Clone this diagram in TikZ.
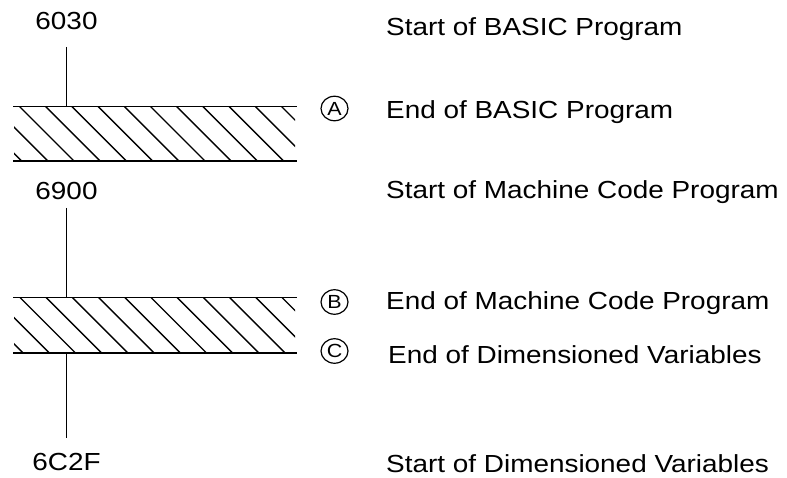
\documentclass[tikz,border=0pt]{standalone}
\usepackage{graphicx}
\usepackage{fontspec}
\setmainfont{Liberation Sans}
\usetikzlibrary{shapes.geometric}
\newcommand{\wtext}[1]{\scalebox{1.13}[1]{#1}}
\begin{document}
\begin{tikzpicture}[x=1pt,y=-1pt,
  lbl/.style={font=\fontsize{24.7}{30}\selectfont, inner sep=0pt, anchor=base west},
  addr/.style={font=\fontsize{24.7}{30}\selectfont, inner sep=0pt, anchor=base},
  circ/.style={draw, ellipse, line width=1.2pt, minimum width=27pt, minimum height=24.5pt, inner sep=0pt, font=\fontsize{19}{20}\selectfont},
  bandline/.style={line width=1.8pt},
  hatch/.style={line width=1.4pt},
  vline/.style={line width=1.3pt}]
\useasboundingbox (0,0) rectangle (787,478);
\fill[white] (0,0) rectangle (787,478);

% address labels
\node[addr] (a6030) at (66.5,30) {\wtext{6030}};
\node[addr] (a6900) at (66.5,200) {\wtext{6900}};
\node[addr] (a6C2F) at (66.5,470) {\wtext{6C2F}};

% band 1
\coordinate (b1tl) at (13,106.5);
\coordinate (b1tr) at (297,106.5);
\coordinate (b1bl) at (13,161);
\coordinate (b1br) at (297,161);
\begin{scope}
  \clip (14,106.5) rectangle (295,161);
  \foreach \k in {-3,...,11}
    \draw[hatch] ({19.5+26.2*\k},106.5) -- ++(54.5,54.5);
\end{scope}
\draw[bandline] (b1tl) -- (b1tr);
\draw[bandline] (b1bl) -- (b1br);

% band 2
\coordinate (b2tl) at (13,297.5);
\coordinate (b2tr) at (297,297.5);
\coordinate (b2bl) at (13,353);
\coordinate (b2br) at (297,353);
\begin{scope}
  \clip (14,297.5) rectangle (295,353);
  \foreach \k in {-3,...,11}
    \draw[hatch] ({20+26.2*\k},297.5) -- ++(55.5,55.5);
\end{scope}
\draw[bandline] (b2tl) -- (b2tr);
\draw[bandline] (b2bl) -- (b2br);

% vertical lines
\coordinate (v1a) at (66.5,47);
\coordinate (v1b) at (66.5,106.5);
\coordinate (v2a) at (66.5,208);
\coordinate (v2b) at (66.5,297.5);
\coordinate (v3a) at (66.5,353);
\coordinate (v3b) at (66.5,438);
\draw[vline] (v1a) -- (v1b);
\draw[vline] (v2a) -- (v2b);
\draw[vline] (v3a) -- (v3b);

% circled markers
\node[circ] (cA) at (334.5,108.5) {\wtext{A}};
\node[circ] (cB) at (334.5,302) {\wtext{B}};
\node[circ] (cC) at (334.5,351) {\wtext{C}};

% descriptions
\node[lbl] (t1) at (386,36) {\wtext{Start of BASIC Program}};
\node[lbl] (t2) at (386,119) {\wtext{End of BASIC Program}};
\node[lbl] (t3) at (386,199) {\wtext{Start of Machine Code Program}};
\node[lbl] (t4) at (386,309) {\wtext{End of Machine Code Program}};
\node[lbl] (t5) at (388,363) {\wtext{End of Dimensioned Variables}};
\node[lbl] (t6) at (386,472) {\wtext{Start of Dimensioned Variables}};
\end{tikzpicture}
\end{document}
